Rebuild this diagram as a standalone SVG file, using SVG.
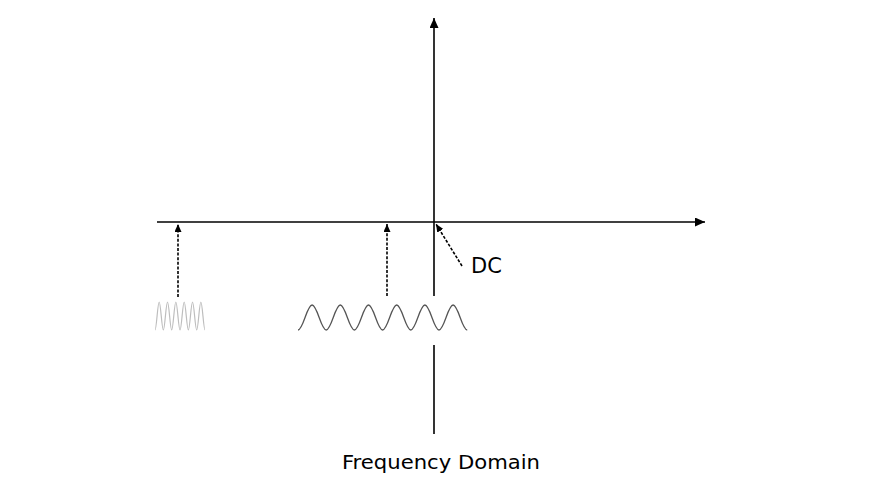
<svg xmlns="http://www.w3.org/2000/svg" width="894" height="493" viewBox="0 0 894 493">
<style>
.axis{stroke:#000;stroke-width:1.6;fill:none}
.dash{stroke:#000;stroke-width:1.6;stroke-dasharray:3,1.6;fill:none}
.wave{stroke:#555;stroke-width:1.3;fill:none}
.wave-light{stroke:#bdbdbd;stroke-width:1.2;fill:none}
.lbl{font-family:"DejaVu Sans",sans-serif;font-size:20px;fill:#000}
</style>
<defs>
<marker id="ah" markerUnits="userSpaceOnUse" markerWidth="10" markerHeight="9" refX="10" refY="4.5" orient="auto">
<path d="M0,0 L10,4.5 L0,9 z" fill="#000"/>
</marker>
<marker id="ahs" markerUnits="userSpaceOnUse" markerWidth="8" markerHeight="7" refX="8" refY="3.5" orient="auto">
<path d="M0,0 L8,3.5 L0,7 z" fill="#000"/>
</marker>
</defs>
<rect width="894" height="493" fill="#fff"/>
<g id="connectors">
<line class="axis" x1="157" y1="222" x2="705" y2="222" marker-end="url(#ah)"/>
<line class="axis" x1="434" y1="296" x2="434" y2="18" marker-end="url(#ah)"/>
<line class="axis" x1="434" y1="345" x2="434" y2="434"/>
<line class="dash" x1="178" y1="297" x2="178" y2="224" marker-end="url(#ahs)"/>
<line class="dash" x1="387" y1="296" x2="387" y2="224" marker-end="url(#ahs)"/>
<line class="dash" x1="462" y1="266" x2="436" y2="224" marker-end="url(#ahs)"/>
</g>
<g id="wave-small">
<path class="wave-light" d="M155,330 c1.52,0 2.65,-28 4.17,-28 s2.65,28 4.17,28 s2.65,-28 4.17,-28 s2.65,28 4.17,28 s2.65,-28 4.17,-28 s2.65,28 4.17,28 s2.65,-28 4.17,-28 s2.65,28 4.17,28 s2.65,-28 4.17,-28 s2.65,28 4.17,28 s2.65,-28 4.17,-28 s2.65,28 4.17,28"/>
</g>
<g id="wave-large">
<path class="wave" d="M298,330 c5.14,0 8.96,-25 14.1,-25 s8.96,25 14.1,25 s8.96,-25 14.1,-25 s8.96,25 14.1,25 s8.96,-25 14.1,-25 s8.96,25 14.1,25 s8.96,-25 14.1,-25 s8.96,25 14.1,25 s8.96,-25 14.1,-25 s8.96,25 14.1,25 s8.96,-25 14.1,-25 s8.96,25 14.1,25"/>
</g>
<g id="dc-label">
<text class="lbl" x="471" y="273" style="font-size:21px">DC</text>
</g>
<g id="title">
<text class="lbl" x="342" y="469" textLength="198" lengthAdjust="spacingAndGlyphs">Frequency Domain</text>
</g>
</svg>
